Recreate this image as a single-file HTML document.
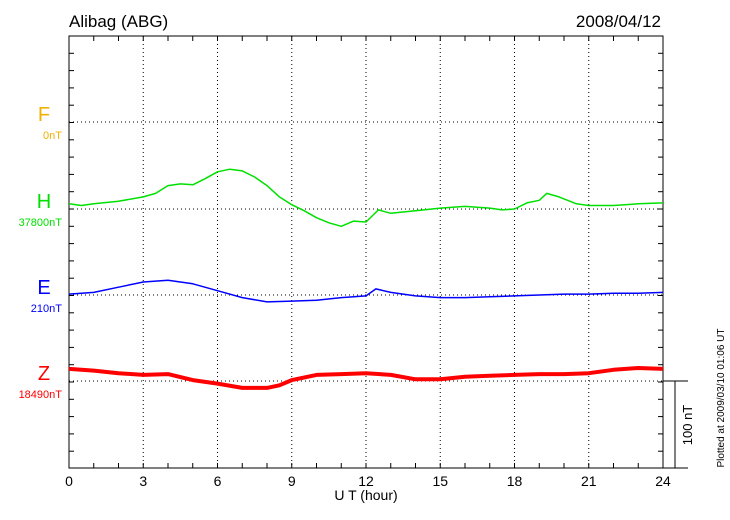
<!DOCTYPE html>
<html><head><meta charset="utf-8"><style>
body{margin:0;background:#fff;}
svg{display:block;font-family:"Liberation Sans",sans-serif;}
</style></head><body>
<svg id="chart" width="730" height="520" viewBox="0 0 730 520" xmlns="http://www.w3.org/2000/svg">
<text x="69" y="27" font-size="17">Alibag (ABG)</text>
<text x="661" y="27" font-size="17" text-anchor="end">2008/04/12</text>
<g id="grid"></g>
<g id="axes"></g>
<g id="series"></g>
<g id="labels"></g>
<text x="366" y="500" font-size="14" text-anchor="middle">U T (hour)</text>
<text transform="translate(692,425) rotate(-90)" font-size="13" text-anchor="middle">100 nT</text>
<text transform="translate(724,398) rotate(-90)" font-size="10" text-anchor="middle">Plotted at 2009/03/10 01:06 UT</text>
</svg>
<script>
const xTicks=[0,3,6,9,12,15,18,21,24];
const hHours=[0,0.5,1,2,3,3.5,4,4.5,5,5.5,6,6.5,7,7.5,8,8.5,9,9.5,10,10.5,11,11.5,12,12.5,13,14,15,16,17,17.5,18,18.5,19,19.3,19.8,20.5,21,22,23,24];
const hValues=[6,4,6,9,14,18,27,29,28,35,43,46,44,37,27,14,5,-2,-10,-16,-20,-14,-15,-1,-5,-2,1,3,1,-1,0,7,10,18,14,6,4,4,6,7];
const eHours=[0,1,2,3,4,5,6,7,8,9,10,11,12,12.4,13,14,15,16,17,18,19,20,21,22,23,24];
const eValues=[1,3,9,15,17,13,5,-3,-8,-7,-6,-3,-1,7,3,-1,-3,-3,-2,-1,0,1,1,2,2,3];
const zHours=[0,1,2,3,4,5,6,7,8,8.5,9,10,11,12,13,14,15,16,17,18,19,20,21,22,23,24];
const zValues=[14,12,9,7,8,1,-3,-8,-8,-5,1,7,8,9,7,2,2,5,6,7,8,8,9,13,15,14];
const components=["F","H","E","Z"];
const baseLabels=["0nT","37800nT","210nT","18490nT"];
const colors=["#f0b000","#00e000","#0000ff","#ff0000"];

const L=69,R=663,T=36,B=468,pxPerNT=0.865;
const baseY=[122,209,295,381];
const x=h=>L+(R-L)*h/24;
const y=(v,i)=>baseY[i]-v*pxPerNT;
const NS="http://www.w3.org/2000/svg";
function mk(tag,parent,attrs){const e=document.createElementNS(NS,tag);for(const k in attrs)e.setAttribute(k,attrs[k]);parent.appendChild(e);return e;}
const grid=document.getElementById('grid'),axes=document.getElementById('axes'),series=document.getElementById('series'),labels=document.getElementById('labels');

xTicks.forEach((t,i)=>{
  if(i>0&&i<xTicks.length-1){const g=mk('line',grid,{x1:x(t),x2:x(t),y1:T,y2:B,stroke:'#000','stroke-dasharray':'1,3','stroke-width':1});
  
  }
  const tl=mk('text',labels,{x:x(t),y:486,'font-size':14,'text-anchor':'middle'});tl.textContent=t;
  
  
});
baseY.forEach(by=>{const g=mk('line',grid,{x1:L,x2:R,y1:by,y2:by,stroke:'#000','stroke-dasharray':'1,3','stroke-width':1});
  
  });
const frame=mk('rect',axes,{x:L,y:T,width:R-L,height:B-T,fill:'none',stroke:'#000','stroke-width':1});


for(let h=1;h<24;h++){
  mk('line',axes,{x1:x(h),x2:x(h),y1:T,y2:T+5,stroke:'#000'});
  mk('line',axes,{x1:x(h),x2:x(h),y1:B,y2:B-5,stroke:'#000'});
}
for(let yy=T+17.3;yy<B-2;yy+=17.3){
  mk('line',axes,{x1:L,x2:L+5,y1:yy,y2:yy,stroke:'#000'});
  mk('line',axes,{x1:R,x2:R-5,y1:yy,y2:yy,stroke:'#000'});
}
const sb=mk('path',axes,{d:`M${R} ${baseY[3]}H688M${R} ${B}H688M675 ${baseY[3]}V${B}`,stroke:'#000',fill:'none'});



function draw(hours,vals,i,w,name){
  const p=hours.map((h,k)=>x(h).toFixed(1)+','+y(vals[k],i).toFixed(1)).join(' ');
  const pl=mk('polyline',series,{points:p,fill:'none',stroke:colors[i],'stroke-width':w,'stroke-linejoin':'round'});
  
  
}
draw(hHours,hValues,1,1.5,'h-series');
draw(eHours,eValues,2,1.5,'e-series');
draw(zHours,zValues,3,4,'z-series');

components.forEach((c,i)=>{
  const t=mk('text',labels,{x:44,y:baseY[i]-1,'font-size':20,'text-anchor':'middle',fill:colors[i]});t.textContent=c;
  
  
  const b=mk('text',labels,{x:62,y:baseY[i]+17,'font-size':11,'text-anchor':'end',fill:colors[i]});b.textContent=baseLabels[i];
  
  
});
</script>
</body></html>
